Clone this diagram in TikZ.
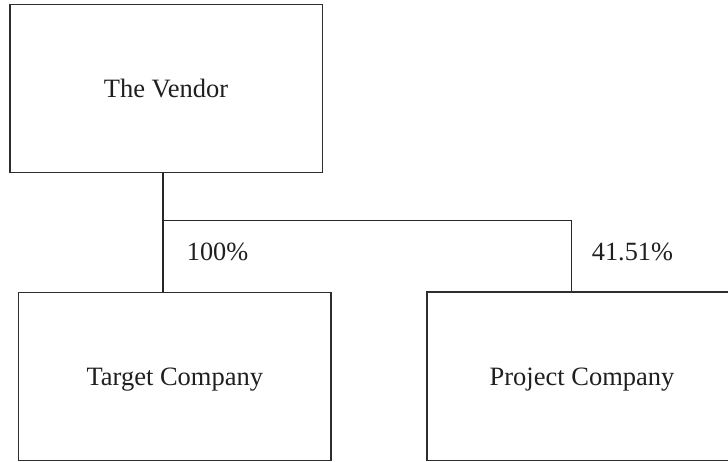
\documentclass[tikz,border=0pt]{standalone}
\usepackage{fontspec}
\setmainfont{Liberation Serif}
\begin{document}
\begin{tikzpicture}[x=1pt,y=-1pt,
  entity/.style={draw=black!82,line width=1.3pt,rectangle,inner sep=0pt,
    text height=18pt,text depth=0pt,
    font=\fontsize{26.5}{30}\selectfont,text=black!88},
  link/.style={draw=black!85,line width=1.2pt},
  share/.style={font=\fontsize{26.3}{30}\selectfont,text=black!88,inner sep=0pt,anchor=base west}]
\useasboundingbox (0,0) rectangle (728,461);
\clip (0,0) rectangle (728,461);
% ownership boxes
\node[entity,minimum width=312.3pt,minimum height=168pt] (vendor) at (166,88.7) {The Vendor};
\node[entity,minimum width=312.3pt,minimum height=167.6pt] (tgt) at (174.85,376.5) {Target Company};
\node[entity,minimum width=310pt,minimum height=168.6pt] (prj) at (582,376.2) {Project Company};
% ownership lines
\coordinate (j) at (163,220.7);
\coordinate (k) at (571.7,220.7);
\draw[link] (vendor.south -| j) -- (j) -- (tgt.north -| j);
\draw[link] (j) -- (k) -- (k |- prj.north);
% percentages
\node[share] (p1) at (186.7,260) {100\%};
\node[share] (p2) at (591.7,260.7) {41.51\%};
\end{tikzpicture}
\end{document}
